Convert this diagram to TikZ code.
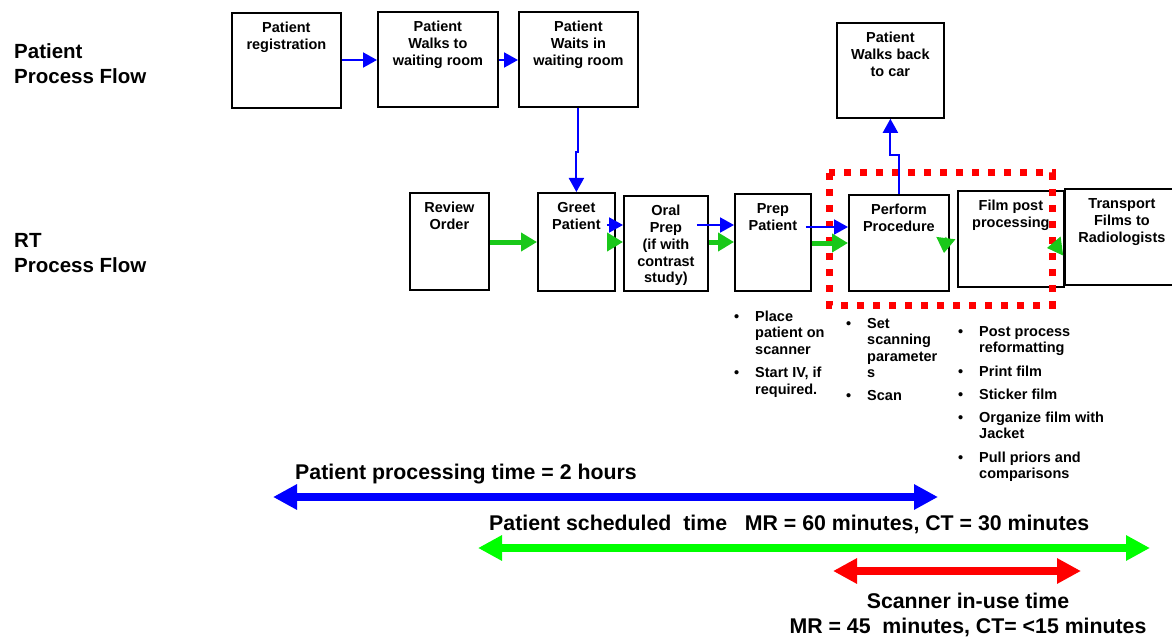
\documentclass[tikz,border=0pt]{standalone}
\usepackage{fontspec}
\setmainfont{Liberation Sans}
\usetikzlibrary{arrows.meta, positioning, calc}
\definecolor{flowblue}{RGB}{0,0,255}
\definecolor{rtgreen}{RGB}{25,200,25}
\definecolor{timegreen}{RGB}{0,255,0}
\definecolor{scanred}{RGB}{255,0,0}
\newcommand{\boxtext}[3]{\parbox[c][#2][t]{#1}{\centering\rule{0pt}{20pt}#3}}
\tikzset{
  stepbox/.style={draw, line width=1.8pt, anchor=north west, inner sep=0pt, font=\fontsize{14.5}{16.7}\selectfont\bfseries},
  bluearr/.style={flowblue, line width=2pt, -{Triangle[length=14pt,width=15pt]}},
  greenarr/.style={rtgreen, line width=5pt, -{Triangle[length=16pt,width=18pt]}},
  greenhead/.style={rtgreen, line width=1pt, -{Triangle[length=15pt,width=19pt]}},
  timearr/.style={#1, line width=8pt, {Triangle[length=24pt,width=24pt]}-{Triangle[length=24pt,width=24pt]}},
  rowtitle/.style={anchor=base west, inner sep=0pt, font=\fontsize{20.5}{25}\selectfont\bfseries},
  timelabel/.style={inner sep=0pt, font=\fontsize{21.3}{25}\selectfont\bfseries},
  notes/.style={anchor=base west, inner sep=0pt, font=\fontsize{14.5}{16.5}\selectfont\bfseries},
}

\begin{document}
\begin{tikzpicture}[x=1pt, y=-1pt]
\useasboundingbox (0,0) rectangle (1172,639);

% row titles
\node[rowtitle] (pflow) at (14,59) {\begin{tabular}[t]{@{}l@{}}Patient\\Process Flow\end{tabular}};
\node[rowtitle] (rtflow) at (14,247) {\begin{tabular}[t]{@{}l@{}}RT\\Process Flow\end{tabular}};

% patient process flow
\node[stepbox] (reg) at (231,12) {\boxtext{109pt}{95pt}{Patient\\registration}};
\node[stepbox] (walk) at (377,11) {\boxtext{120pt}{95pt}{Patient\\Walks to\\waiting room}};
\node[stepbox] (wait) at (518,11) {\boxtext{119pt}{95pt}{Patient\\Waits in\\waiting room}};
\node[stepbox] (back) at (836,22) {\boxtext{107pt}{95pt}{Patient\\Walks back\\to car}};

% RT process flow
\node[stepbox] (review) at (409,192) {\boxtext{79pt}{97pt}{Review\\Order}};
\node[stepbox] (greet) at (537,192) {\boxtext{77pt}{98pt}{Greet\\Patient}};
\node[stepbox] (oral) at (623,195) {\boxtext{84pt}{95pt}{Oral\\Prep\\(if with\\contrast\\study)}};
\node[stepbox] (prep) at (734,193) {\boxtext{76pt}{97pt}{Prep\\Patient}};
\node[stepbox] (perform) at (848,194) {\boxtext{100pt}{96pt}{Perform\\Procedure}};
\node[stepbox] (film) at (957,190) {\boxtext{106pt}{96pt}{Film post\\processing}};
\node[stepbox] (transport) at (1064,188) {\boxtext{114pt}{96pt}{Transport\\Films to\\Radiologists}};

% scanner frame
\draw[scanred, line width=7pt, dash pattern=on 7pt off 9pt] (829,173) rectangle (1052,305);

% connectors
\draw[bluearr] (reg.east |- 0,60) -- (walk.west |- 0,60);
\draw[bluearr] (walk.east |- 0,60) -- (wait.west |- 0,60);
\draw[bluearr] (wait.south) -- ++(0,44) -| (greet.north);
\draw[greenarr] (review.east |- 0,242) -- (greet.west |- 0,242);
\draw[bluearr] ($(greet.east |- 0,225)+(-9,0)$) -- (oral.west |- 0,225);
\draw[greenarr] (greet.east |- 0,242) -- (oral.west |- 0,242);
\draw[bluearr] ($(oral.east |- 0,225)+(-12,0)$) -- (prep.west |- 0,225);
\draw[greenarr] (oral.east |- 0,242) -- (prep.west |- 0,242);
\draw[bluearr] ($(prep.east |- 0,227)+(-6,0)$) -- (perform.west |- 0,227);
\draw[greenarr] (prep.east |- 0,243) -- (perform.west |- 0,243);
\draw[bluearr] (perform.north) -- ++(0,-39) -| (back.south);
\coordinate (pfa) at (946,237);
\coordinate (pfb) at (944,253);
\draw[greenhead] (pfa) -- (pfb);
\coordinate (fta) at (1062,246);
\coordinate (ftb) at (1047,248);
\draw[greenhead] (fta) -- (ftb);

% task notes
\node[notes] (prepnotes) at (734,321) {\begin{tabular}[t]{@{}p{21pt}@{}l@{}}\textbullet & Place\\ & patient on\\ & scanner\\[7pt]
  \textbullet & Start IV, if\\ & required.\end{tabular}};
\node[notes] (performnotes) at (846,328) {\begin{tabular}[t]{@{}p{21pt}@{}l@{}}\textbullet & Set\\ & scanning\\ & parameter\\ & s\\[6.5pt]
  \textbullet & Scan\end{tabular}};
\node[notes] (filmnotes) at (958,336) {\begin{tabular}[t]{@{}p{21pt}@{}l@{}}\textbullet & Post process\\ & reformatting\\[7pt]
  \textbullet & Print film\\[6.5pt] \textbullet & Sticker film\\[6.5pt] \textbullet & Organize film with\\ & Jacket\\[7pt]
  \textbullet & Pull priors and\\ & comparisons\end{tabular}};

% time spans
\coordinate (procl) at (273,497);
\coordinate (procr) at (938,497);
\coordinate (schedl) at (478,548);
\coordinate (schedr) at (1150,548);
\coordinate (scanl) at (833,571);
\coordinate (scanr) at (1081,571);
\draw[timearr=flowblue] (procl) -- (procr);
\draw[timearr=timegreen] (schedl) -- (schedr);
\draw[timearr=scanred] (scanl) -- (scanr);
\node[timelabel, anchor=base west] (proclabel) at (295,479) {Patient processing time = 2 hours};
\node[timelabel, anchor=base west] (schedlabel) at (489,530) {Patient scheduled\ \ time\ \ \ MR = 60 minutes, CT = 30 minutes};
\node[timelabel, anchor=base] (scanlabel) at (968,608) {\begin{tabular}[t]{@{}c@{}}Scanner in-use time\\MR = 45\ \ minutes, CT= <15 minutes\end{tabular}};
\end{tikzpicture}
\end{document}
